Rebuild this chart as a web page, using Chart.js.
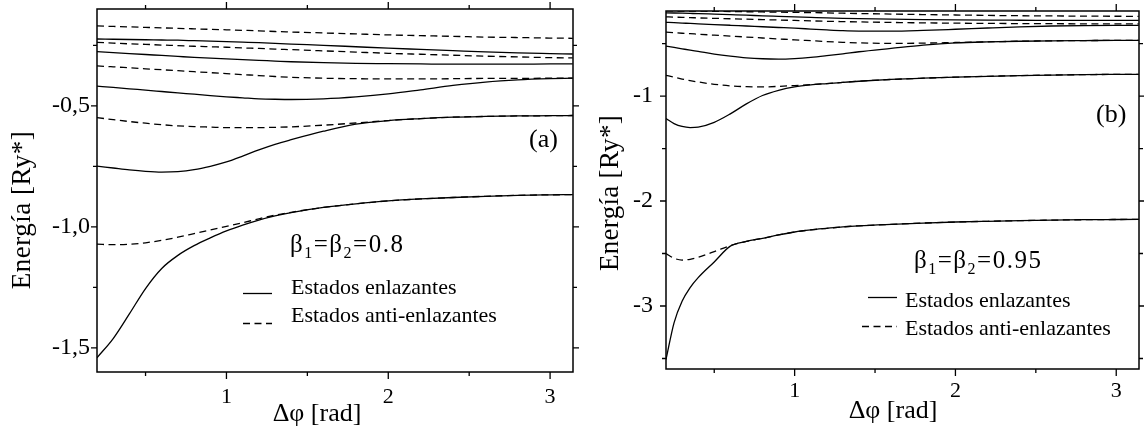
<!DOCTYPE html>
<html><head><meta charset="utf-8">
<script src="https://cdn.jsdelivr.net/npm/chart.js@4.4.1/dist/chart.umd.min.js"></script>
<style>
html,body{margin:0;padding:0;background:#fff;}
body{width:1144px;height:434px;position:relative;overflow:hidden;font-family:"Liberation Serif","Times New Roman",serif;color:#000;}
canvas{position:absolute;top:0;}
#ca{left:0;}
#cb{left:585px;}
.t{position:absolute;white-space:nowrap;line-height:1;font-family:"Liberation Serif",serif;color:#000;}
.beta{letter-spacing:1.5px;}
.beta sub{font-size:16px;vertical-align:-6px;line-height:0;}
.rot{transform:translate(-50%,-50%) rotate(-90deg);}
.ctr{transform:translateX(-50%);}
svg{position:absolute;overflow:visible;}
</style>
</head><body>
<canvas id="ca" width="585" height="434"></canvas>
<canvas id="cb" width="559" height="434"></canvas>

<div class="t" style="left:529px;top:126px;font-size:26px;">(a)</div>
<div class="t" style="left:1096px;top:101px;font-size:26px;">(b)</div>

<div class="t beta" style="left:290px;top:231px;font-size:25px;">β<sub>1</sub>=β<sub>2</sub>=0.8</div>
<div class="t beta" style="left:914px;top:247px;font-size:25px;">β<sub>1</sub>=β<sub>2</sub>=0.95</div>

<div class="t" style="left:291px;top:276px;font-size:22px;">Estados enlazantes</div>
<div class="t" style="left:291px;top:304px;font-size:22px;">Estados anti-enlazantes</div>
<div class="t" style="left:905px;top:289px;font-size:22px;">Estados enlazantes</div>
<div class="t" style="left:905px;top:317px;font-size:22px;">Estados anti-enlazantes</div>

<svg style="left:0;top:0;" width="1144" height="434">
  <line x1="243" y1="293.5" x2="272" y2="293.5" stroke="#000" stroke-width="1.3"/>
  <line x1="243" y1="323.5" x2="272" y2="323.5" stroke="#000" stroke-width="1.3" stroke-dasharray="7 4.5"/>
  <line x1="868" y1="297.5" x2="897" y2="297.5" stroke="#000" stroke-width="1.3"/>
  <line x1="862" y1="326.5" x2="897" y2="326.5" stroke="#000" stroke-width="1.3" stroke-dasharray="7 4.5"/>
</svg>

<div class="t rot" style="left:21px;top:210px;font-size:27px;letter-spacing:0.5px;">Energía [Ry*]</div>
<div class="t rot" style="left:609px;top:193px;font-size:27px;letter-spacing:0.3px;">Energía [Ry*]</div>
<div class="t ctr" style="left:317px;top:400px;font-size:26px;">Δφ [rad]</div>
<div class="t ctr" style="left:893px;top:397px;font-size:26px;">Δφ [rad]</div>

<script>
// ---------- data ----------
const xA = [0.2,0.3,0.4,0.5,0.6,0.7,0.8,0.9,1.0,1.1,1.2,1.3,1.4,1.6,1.8,2.0,2.2,2.4,2.6,2.8,3.0,3.14];
// panel (a) beta = 0.8 ; S = enlazante (solid), D = anti-enlazante (dashed)
const aD1 = [-0.170,-0.172,-0.174,-0.176,-0.178,-0.180,-0.182,-0.184,-0.186,-0.188,-0.190,-0.193,-0.195,-0.199,-0.203,-0.207,-0.210,-0.213,-0.216,-0.218,-0.220,-0.221];
const aS1 = [-0.224,-0.225,-0.226,-0.227,-0.228,-0.229,-0.231,-0.233,-0.235,-0.237,-0.239,-0.242,-0.245,-0.250,-0.256,-0.262,-0.267,-0.272,-0.277,-0.281,-0.284,-0.286];
const aD2 = [-0.238,-0.241,-0.244,-0.246,-0.249,-0.251,-0.254,-0.256,-0.258,-0.261,-0.263,-0.266,-0.268,-0.273,-0.278,-0.283,-0.287,-0.291,-0.295,-0.298,-0.301,-0.302];
const aS2 = [-0.276,-0.280,-0.284,-0.288,-0.292,-0.296,-0.300,-0.303,-0.306,-0.309,-0.312,-0.315,-0.318,-0.322,-0.325,-0.326,-0.327,-0.328,-0.328,-0.328,-0.327,-0.327];
const aD3 = [-0.335,-0.339,-0.343,-0.347,-0.351,-0.355,-0.359,-0.363,-0.367,-0.371,-0.375,-0.379,-0.382,-0.386,-0.388,-0.389,-0.389,-0.388,-0.387,-0.387,-0.386,-0.386];
const aS3 = [-0.419,-0.424,-0.430,-0.435,-0.441,-0.447,-0.452,-0.458,-0.463,-0.467,-0.471,-0.473,-0.474,-0.471,-0.463,-0.451,-0.434,-0.416,-0.402,-0.393,-0.388,-0.386];
const aD4 = [-0.549,-0.557,-0.565,-0.572,-0.578,-0.583,-0.586,-0.588,-0.590,-0.590,-0.590,-0.589,-0.587,-0.580,-0.571,-0.561,-0.553,-0.547,-0.544,-0.542,-0.541,-0.540];
const aS4 = [-0.749,-0.757,-0.765,-0.771,-0.774,-0.772,-0.764,-0.750,-0.732,-0.708,-0.682,-0.659,-0.640,-0.605,-0.576,-0.561,-0.553,-0.547,-0.544,-0.542,-0.541,-0.540];
const aD5 = [-1.072,-1.074,-1.072,-1.066,-1.056,-1.043,-1.028,-1.013,-0.998,-0.983,-0.967,-0.952,-0.940,-0.920,-0.905,-0.893,-0.885,-0.879,-0.874,-0.870,-0.868,-0.867];
const aS5 = [-1.541,-1.462,-1.360,-1.255,-1.172,-1.118,-1.078,-1.046,-1.017,-0.993,-0.972,-0.955,-0.941,-0.920,-0.905,-0.893,-0.885,-0.879,-0.874,-0.870,-0.868,-0.867];

const xB = [0.2,0.25,0.3,0.35,0.4,0.5,0.6,0.7,0.8,0.9,1.0,1.1,1.2,1.3,1.4,1.6,1.8,2.0,2.2,2.4,2.6,2.8,3.0,3.14];
// panel (b) beta = 0.95
const bD1 = [-0.188,-0.189,-0.190,-0.190,-0.191,-0.193,-0.195,-0.197,-0.199,-0.201,-0.203,-0.205,-0.208,-0.211,-0.214,-0.219,-0.224,-0.228,-0.232,-0.235,-0.237,-0.239,-0.240,-0.241];
const bS1 = [-0.207,-0.209,-0.211,-0.213,-0.215,-0.220,-0.225,-0.230,-0.236,-0.241,-0.246,-0.251,-0.256,-0.260,-0.263,-0.268,-0.272,-0.275,-0.277,-0.278,-0.279,-0.280,-0.280,-0.280];
const bD2 = [-0.246,-0.248,-0.251,-0.253,-0.256,-0.260,-0.264,-0.268,-0.272,-0.276,-0.280,-0.284,-0.288,-0.291,-0.294,-0.299,-0.303,-0.306,-0.308,-0.310,-0.311,-0.312,-0.312,-0.312];
const bS2 = [-0.298,-0.301,-0.305,-0.308,-0.312,-0.319,-0.326,-0.333,-0.340,-0.347,-0.354,-0.362,-0.370,-0.377,-0.381,-0.382,-0.375,-0.364,-0.352,-0.341,-0.333,-0.329,-0.327,-0.327];
const bD3 = [-0.392,-0.397,-0.402,-0.406,-0.411,-0.420,-0.429,-0.438,-0.447,-0.456,-0.465,-0.473,-0.481,-0.488,-0.494,-0.498,-0.496,-0.490,-0.484,-0.478,-0.474,-0.472,-0.470,-0.470];
const bS3 = [-0.524,-0.537,-0.550,-0.563,-0.575,-0.600,-0.620,-0.636,-0.645,-0.648,-0.643,-0.632,-0.616,-0.598,-0.578,-0.546,-0.515,-0.494,-0.484,-0.478,-0.474,-0.472,-0.470,-0.470];
const bD4 = [-0.803,-0.821,-0.838,-0.853,-0.866,-0.888,-0.903,-0.911,-0.913,-0.908,-0.900,-0.891,-0.881,-0.870,-0.859,-0.842,-0.830,-0.820,-0.812,-0.805,-0.800,-0.796,-0.794,-0.793];
const bS4 = [-1.215,-1.262,-1.290,-1.300,-1.296,-1.250,-1.170,-1.075,-0.995,-0.945,-0.912,-0.893,-0.881,-0.870,-0.859,-0.842,-0.830,-0.820,-0.812,-0.805,-0.800,-0.796,-0.794,-0.793];
const bD5 = [-2.500,-2.545,-2.562,-2.555,-2.535,-2.482,-2.425,-2.385,-2.355,-2.323,-2.295,-2.275,-2.260,-2.246,-2.236,-2.222,-2.210,-2.200,-2.193,-2.187,-2.182,-2.178,-2.176,-2.175];
const bS5 = [-3.510,-3.160,-2.955,-2.825,-2.730,-2.580,-2.430,-2.385,-2.355,-2.323,-2.295,-2.275,-2.260,-2.246,-2.236,-2.222,-2.210,-2.200,-2.193,-2.187,-2.182,-2.178,-2.176,-2.175];

// ticks
const xTicks = [1, 2, 3];
const xMinor = [0.5, 1.5, 2.5];
const yTicksA = [-0.5, -1.0, -1.5];
const yMinorA = [-0.25, -0.75, -1.25];
const yTicksB = [-1, -2, -3];
const yMinorB = [-0.5, -1.5, -2.5, -3.5];

// ---------- helpers ----------
function pts(xs, ys) { return xs.map((x, i) => ({ x: x, y: ys[i] })); }
const DASH = [7, 4.5];
function ds(xs, ys, dashed) {
  return {
    data: pts(xs, ys), showLine: true, borderColor: '#000', borderWidth: 1.3,
    borderDash: dashed ? DASH : [], pointRadius: 0, pointHoverRadius: 0,
    cubicInterpolationMode: 'monotone', fill: false
  };
}

const frameTicks = {
  id: 'frameTicks',
  afterDraw(chart, args, o) {
    const { ctx, chartArea: a } = chart;
    const sx = chart.scales.x, sy = chart.scales.y;
    ctx.save();
    ctx.strokeStyle = '#000';
    ctx.lineWidth = 1.5;
    ctx.strokeRect(a.left, a.top, a.right - a.left, a.bottom - a.top);
    ctx.lineWidth = 1.3;
    ctx.beginPath();
    const xt = (vals, len) => vals.forEach(v => {
      const p = sx.getPixelForValue(v);
      ctx.moveTo(p, a.bottom); ctx.lineTo(p, a.bottom + len);
      ctx.moveTo(p, a.top); ctx.lineTo(p, a.top - len);
    });
    const yt = (vals, len) => vals.forEach(v => {
      const p = sy.getPixelForValue(v);
      ctx.moveTo(a.left, p); ctx.lineTo(a.left - len, p);
      ctx.moveTo(a.right, p); ctx.lineTo(a.right + len, p);
    });
    xt(o.xMaj, 7); xt(o.xMin, 4); yt(o.yMaj, 6); yt(o.yMin, 4);
    ctx.stroke();
    ctx.restore();
  }
};

function makeChart(id, sets, cfg) {
  return new Chart(document.getElementById(id), {
    type: 'scatter',
    data: { datasets: sets },
    plugins: [frameTicks],
    options: {
      responsive: false, animation: false, events: [],
      layout: { padding: { left: 0, top: cfg.top, right: cfg.right, bottom: 0 }, autoPadding: false },
      plugins: {
        legend: { display: false }, tooltip: { enabled: false },
        frameTicks: { xMaj: xTicks, xMin: xMinor, yMaj: cfg.yMaj, yMin: cfg.yMin }
      },
      scales: {
        x: {
          type: 'linear', min: 0.2, max: Math.PI,
          afterBuildTicks: s => { s.ticks = xTicks.map(v => ({ value: v })); },
          afterFit: s => { s.height = cfg.xh; s.paddingLeft = 0; s.paddingRight = 0; },
          grid: { display: false, drawTicks: false }, border: { display: false },
          ticks: { color: '#000', font: { family: 'Liberation Serif', size: 22 }, padding: cfg.xpad,
                   maxRotation: 0, autoSkip: false, callback: v => String(v) }
        },
        y: {
          type: 'linear', min: cfg.ymin, max: cfg.ymax,
          afterBuildTicks: s => { s.ticks = cfg.yMaj.map(v => ({ value: v })); },
          afterFit: s => { s.width = cfg.yw; s.paddingTop = 0; s.paddingBottom = 0; },
          grid: { display: false, drawTicks: false }, border: { display: false },
          ticks: { color: '#000', font: { family: 'Liberation Serif', size: 24 }, padding: cfg.ypad,
                   autoSkip: false, callback: cfg.fmt }
        }
      }
    }
  });
}

makeChart('ca', [
  ds(xA, aD1, true), ds(xA, aS1, false), ds(xA, aD2, true), ds(xA, aS2, false),
  ds(xA, aD3, true), ds(xA, aS3, false), ds(xA, aD4, true), ds(xA, aS4, false),
  ds(xA, aD5, true), ds(xA, aS5, false)
], { top: 9, right: 12, xh: 62, yw: 97, xpad: 12, ypad: 7, ymin: -1.6, ymax: -0.1,
     yMaj: yTicksA, yMin: yMinorA, fmt: v => v.toFixed(1).replace('.', ',') });

makeChart('cb', [
  ds(xB, bD1, true), ds(xB, bS1, false), ds(xB, bD2, true), ds(xB, bS2, false),
  ds(xB, bD3, true), ds(xB, bS3, false), ds(xB, bD4, true), ds(xB, bS4, false),
  ds(xB, bD5, true), ds(xB, bS5, false)
], { top: 11, right: 5, xh: 65, yw: 81, xpad: 9, ypad: 13, ymin: -3.6, ymax: -0.19,
     yMaj: yTicksB, yMin: yMinorB, fmt: v => String(v) });
</script>
</body></html>
